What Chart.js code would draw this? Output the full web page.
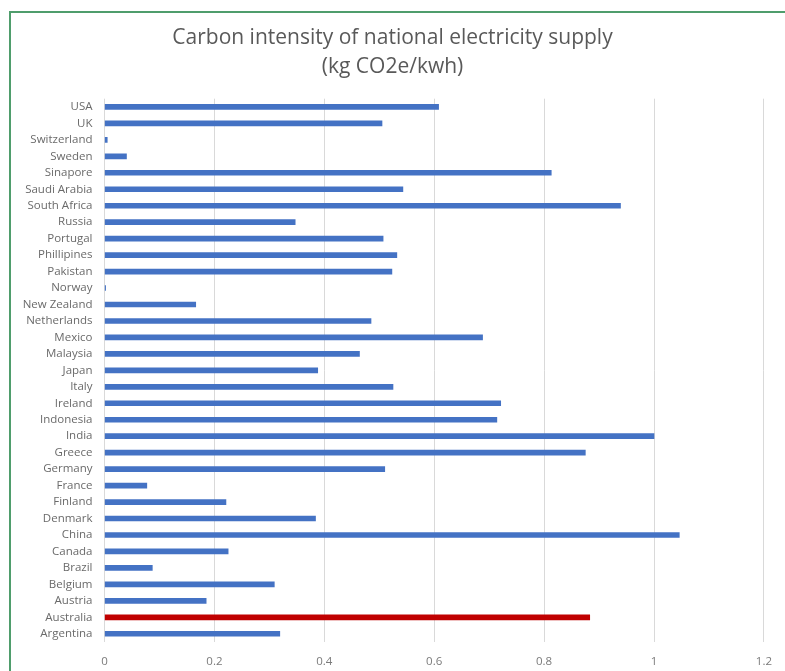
<!DOCTYPE html>
<html>
<head>
<meta charset="utf-8">
<script src="https://cdn.jsdelivr.net/npm/chart.js@4"></script>
<style>
  html, body { margin: 0; padding: 0; background: #fff; }
  #wrap { position: relative; width: 785px; height: 671px; }
  #chart { position: absolute; left: 0; top: 0; }
  .edge-top { position: absolute; left: 10px; top: 11px; width: 775px; height: 2px; background: #4f9d6c; }
  .edge-left { position: absolute; left: 9px; top: 11px; width: 2px; height: 660px; background: #4f9d6c; }
</style>
</head>
<body>
<div id="wrap">
  <canvas id="chart" width="785" height="671"></canvas>
  <div class="edge-top"></div>
  <div class="edge-left"></div>
</div>
<script>
// categories, top to bottom as in the picture
const countries = [
    'USA', 'UK', 'Switzerland', 'Sweden', 'Sinapore', 'Saudi Arabia', 'South Africa',
    'Russia', 'Portugal', 'Phillipines', 'Pakistan', 'Norway', 'New Zealand',
    'Netherlands', 'Mexico', 'Malaysia', 'Japan', 'Italy', 'Ireland', 'Indonesia',
    'India', 'Greece', 'Germany', 'France', 'Finland', 'Denmark', 'China', 'Canada',
    'Brazil', 'Belgium', 'Austria', 'Australia', 'Argentina'
];

// kg CO2e per kWh
const intensity = [
    0.608, 0.505, 0.005, 0.04, 0.813, 0.543, 0.939,
    0.347, 0.507, 0.532, 0.523, 0.002, 0.166,
    0.485, 0.688, 0.464, 0.388, 0.525, 0.721, 0.714,
    1.0, 0.875, 0.510, 0.077, 0.221, 0.384, 1.046, 0.225,
    0.087, 0.309, 0.185, 0.883, 0.319
];

const xTicks = [0, 0.2, 0.4, 0.6, 0.8, 1, 1.2];
const highlighted = 'Australia';

const titleLines = ['Carbon intensity of national electricity supply', '(kg CO2e/kwh)'];

const barColors = countries.map(c => c === highlighted ? '#c00000' : '#4472c4');

new Chart(document.getElementById('chart'), {
    type: 'bar',
    data: {
        labels: countries,
        datasets: [{
            data: intensity,
            backgroundColor: barColors,
            barThickness: 5
        }]
    },
    options: {
        indexAxis: 'y',
        responsive: false,
        animation: false,
        layout: { padding: { left: 18, right: 18, top: 0, bottom: 0 } },
        plugins: {
            legend: { display: false },
            tooltip: { enabled: false },
            title: {
                display: true,
                text: titleLines,
                color: '#595959',
                font: { family: 'Open Sans', size: 21, weight: 'normal', lineHeight: 1.35 },
                padding: { top: 24, bottom: 18 }
            }
        },
        scales: {
            x: {
                min: xTicks[0],
                max: xTicks[xTicks.length - 1],
                afterBuildTicks: axis => { axis.ticks = xTicks.map(v => ({ value: v })); },
                afterFit: axis => { axis.height = 29; },
                grid: { color: '#d9d9d9', drawTicks: false },
                border: { display: false },
                ticks: {
                    color: '#7a7a7a',
                    font: { family: 'Open Sans', size: 11.5 },
                    padding: 13,
                    callback: value => String(value)
                }
            },
            y: {
                afterFit: axis => { axis.width = 86.5; },
                grid: { display: false, drawTicks: false },
                border: { display: false },
                ticks: {
                    color: '#6a6a6a',
                    font: { family: 'Open Sans', size: 11.5 },
                    padding: 12,
                    autoSkip: false
                }
            }
        }
    }
});
</script>
</body>
</html>
